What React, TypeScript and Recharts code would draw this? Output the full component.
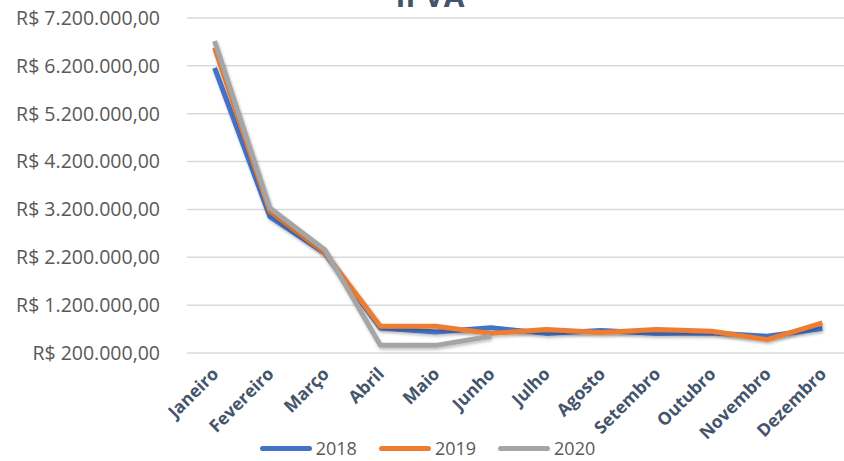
import React from "react";
import { LineChart, Line, XAxis, YAxis, CartesianGrid, Legend } from "recharts";

const months = ["Janeiro", "Fevereiro", "Março", "Abril", "Maio", "Junho", "Julho", "Agosto", "Setembro", "Outubro", "Novembro", "Dezembro"];
const v2018 = [6160000, 3050000, 2280000, 720000, 640000, 730000, 610000, 670000, 610000, 620000, 550000, 710000];
const v2019 = [6580000, 3160000, 2290000, 760000, 760000, 610000, 690000, 630000, 690000, 655000, 480000, 830000];
const v2020: (number | null)[] = [6720000, 3230000, 2350000, 360000, 360000, 550000, null, null, null, null, null, null];
const yTicks = [200000, 1200000, 2200000, 3200000, 4200000, 5200000, 6200000, 7200000];
const boundaryTicks = [0, 1, 2, 3, 4, 5, 6, 7, 8, 9, 10, 11, 12];
const seriesNames = ["2018", "2019", "2020"];
const colors = ["#4472c4", "#ed7d31", "#a5a5a5"];

const data = months.map((m, i) => ({ month: m, s2018: v2018[i], s2019: v2019[i], s2020: v2020[i] }));

const fmtBRL = (v: number) => "R$ " + v.toLocaleString("de-DE", { minimumFractionDigits: 2, maximumFractionDigits: 2 });

const MonthTick = (props: any) => {
  const { x, y, payload } = props;
  return (
    <g transform={`translate(${x + 5},${y + 14})`}>
      <text
        transform="rotate(-45)"
        textAnchor="end"
        fill="#44546a"
        fontFamily="'Open Sans', sans-serif"
        fontWeight={700}
        fontSize={17.5}
      >
        {payload.value}
      </text>
    </g>
  );
};

const LegendContent = () => (
  <div style={{ boxSizing: "border-box", width: 844, height: 24, paddingLeft: 11, display: "flex", justifyContent: "center", alignItems: "center" }}>
    {seriesNames.map((n, i) => (
      <div key={n} style={{ display: "flex", alignItems: "center", marginRight: i < 2 ? 22 : 0 }}>
        <div style={{ width: 52, height: 5, borderRadius: 3, background: colors[i], marginRight: 4 }} />
        <span style={{ fontFamily: "'Open Sans', sans-serif", fontSize: 18, color: "#595959", lineHeight: "24px" }}>{n}</span>
      </div>
    ))}
  </div>
);

export default function App() {
  return (
    <div style={{ position: "absolute", left: 0, top: 0, width: 844, height: 461, overflow: "hidden", background: "#fff" }}>
      <LineChart width={870} height={461} data={data} margin={{ top: 18, right: 20, left: 0, bottom: 0 }}>
        <defs>
          <filter id="shadow" x="-10%" y="-10%" width="120%" height="130%">
            <feDropShadow dx="1" dy="2" stdDeviation="1.5" floodColor="#000" floodOpacity="0.25" />
          </filter>
        </defs>
        <text x={430} y={7} textAnchor="middle" fill="#44546a" fontFamily="'Open Sans', sans-serif" fontWeight={700} fontSize={30}>IPVA</text>
        <CartesianGrid vertical={false} stroke="#d9d9d9" strokeWidth={1.5} />
        <XAxis
          xAxisId="bounds"
          type="number"
          domain={[0, 12]}
          ticks={boundaryTicks}
          height={0}
          tick={false}
          tickSize={6}
          axisLine={{ stroke: "#d9d9d9", strokeWidth: 1.5 }}
          tickLine={{ stroke: "#d9d9d9", strokeWidth: 1.5 }}
          allowDataOverflow
        />
        <XAxis
          dataKey="month"
          height={84}
          axisLine={false}
          tickLine={false}
          interval={0}
          padding={{ left: 27.6, right: 27.6 }}
          tick={<MonthTick />}
        />
        <YAxis
          width={187}
          domain={[200000, 7200000]}
          ticks={yTicks}
          axisLine={false}
          tickLine={false}
          tickSize={0}
          tickMargin={27}
          tickFormatter={fmtBRL}
          tick={{ fill: "#595959", fontSize: 19.5, fontFamily: "'Open Sans', sans-serif" }}
        />
        <Legend content={<LegendContent />} verticalAlign="bottom" height={24} wrapperStyle={{ left: 0, top: 436, width: 844 }} />
        <Line dataKey="s2018" name="2018" stroke={colors[0]} strokeWidth={5} dot={false} strokeLinejoin="round" filter="url(#shadow)" isAnimationActive={false} />
        <Line dataKey="s2019" name="2019" stroke={colors[1]} strokeWidth={5} dot={false} strokeLinejoin="round" filter="url(#shadow)" isAnimationActive={false} />
        <Line dataKey="s2020" name="2020" stroke={colors[2]} strokeWidth={5} dot={false} strokeLinejoin="round" filter="url(#shadow)" isAnimationActive={false} connectNulls={false} />
      </LineChart>
    </div>
  );
}
